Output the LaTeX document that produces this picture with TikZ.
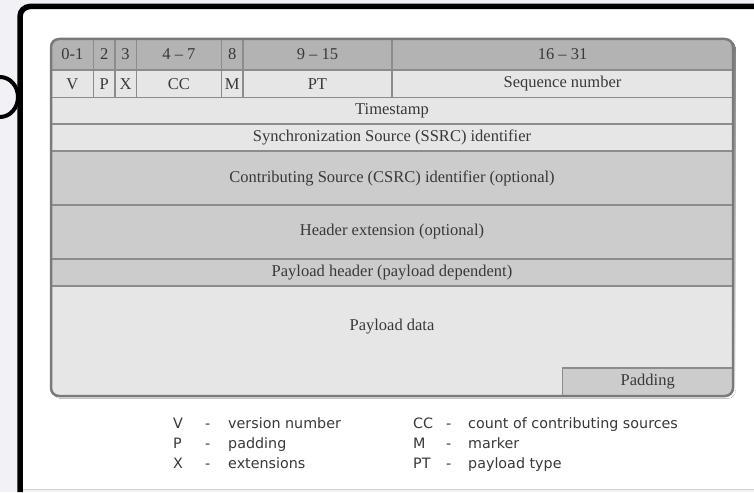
\documentclass[tikz,border=0pt]{standalone}
\usepackage{fontspec}
\setmainfont{Liberation Serif}
\newfontfamily\legendsans{DejaVu Sans}
\usepackage{tikz}
\usepackage{xcolor}
\definecolor{hdrgray}{HTML}{B3B3B3}
\definecolor{midgray}{HTML}{CCCCCC}
\definecolor{litegray}{HTML}{E6E6E6}
\definecolor{gridline}{HTML}{8C8C8C}
\definecolor{rim}{HTML}{7A7A7A}
\definecolor{shade}{HTML}{C4C4C4}
\definecolor{ink}{HTML}{383838}
\definecolor{backdrop}{HTML}{F2F2F6}
\newcommand\fieldfont{\fontsize{16.5}{19}\selectfont}
\newcommand\legfont{\legendsans\fontsize{14.3}{17}\selectfont}
\newcommand\bitw{21.3125}
\tikzset{
  cell/.style={draw=gridline,line width=1.5pt,inner sep=0pt,outer sep=0pt,anchor=north west,text=ink,font=\fieldfont},
  hdrcell/.style={cell,fill=hdrgray},
  litecell/.style={cell,fill=litegray},
  midcell/.style={cell,fill=midgray},
  legend/.style={anchor=base west,inner sep=0pt,text=ink,font=\legfont}
}

\begin{document}
\begin{tikzpicture}[x=1pt,y=-1pt]
\useasboundingbox (0,0) rectangle (754,492);
% screen frame
\fill[backdrop] (0,0) rectangle (754,492);
\fill[white] (20,6.5) rectangle (754,489);
\draw[black!18,line width=0.8pt] (20,489)--(754,489);
\draw[line width=4pt] (0,77) arc[start angle=90,end angle=-90,x radius=18pt,y radius=20pt];
\draw[line width=5.5pt,rounded corners=10pt] (20,492)--(20,6.5)--(754,6.5);
% packet table
\fill[shade,rounded corners=8pt] (52.5,40.5) rectangle (735.5,398.5);
\begin{scope}
\clip[rounded corners=8pt] (51,39) rectangle (733,396);
\foreach \lo/\n/\hd/\fl/\nm in {0/2/0-1/V/v,2/1/2/P/p,3/1/3/X/x,4/4/{4 -- 7}/CC/cc,8/1/8/M/m,9/7/{9 -- 15}/PT/pt,16/16/{16 -- 31}/Sequence number/seq}{
  \node[hdrcell,minimum width=\n*\bitw pt,minimum height=31pt] (h\nm) at ({51+\lo*\bitw},39) {\hd};
  \node[litecell,minimum width=\n*\bitw pt,minimum height=27.5pt] (f\nm) at ({51+\lo*\bitw},70) {\fl};
}
\node[litecell,minimum width=682pt,minimum height=26.5pt] (ts) at (51,97.5) {Timestamp};
\node[litecell,minimum width=682pt,minimum height=27pt] (ssrc) at (51,124) {Synchronization Source (SSRC) identifier};
\node[midcell,minimum width=682pt,minimum height=54pt] (csrc) at (51,151) {Contributing Source (CSRC) identifier (optional)};
\node[midcell,minimum width=682pt,minimum height=54pt] (hext) at (51,205) {Header extension (optional)};
\node[midcell,minimum width=682pt,minimum height=27pt] (plhdr) at (51,259) {Payload header (payload dependent)};
\node[litecell,minimum width=682pt,minimum height=110pt] (pldata) at (51,286) {};
\node[font=\fieldfont,text=ink] (pltext) at (392,327) {Payload data};
\node[midcell,minimum width=8*\bitw pt,minimum height=28pt] (pad) at ({51+24*\bitw},368) {Padding};
\end{scope}
\draw[rim,line width=2.5pt,rounded corners=8pt] (51,39) rectangle (733,396);
% legend
\foreach \ab/\txt/\row in {V/version number/0,P/padding/1,X/extensions/2}{
  \node[legend] (la\row) at (173,{428+20*\row}) {\ab};
  \node[legend] (ld\row) at (205,{428+20*\row}) {-};
  \node[legend] (lt\row) at (228,{428+20*\row}) {\txt};
}
\foreach \ab/\txt/\row in {CC/count of contributing sources/0,M/marker/1,PT/payload type/2}{
  \node[legend] (ra\row) at (413,{428+20*\row}) {\ab};
  \node[legend] (rd\row) at (446,{428+20*\row}) {-};
  \node[legend] (rt\row) at (468,{428+20*\row}) {\txt};
}
\end{tikzpicture}
\end{document}
